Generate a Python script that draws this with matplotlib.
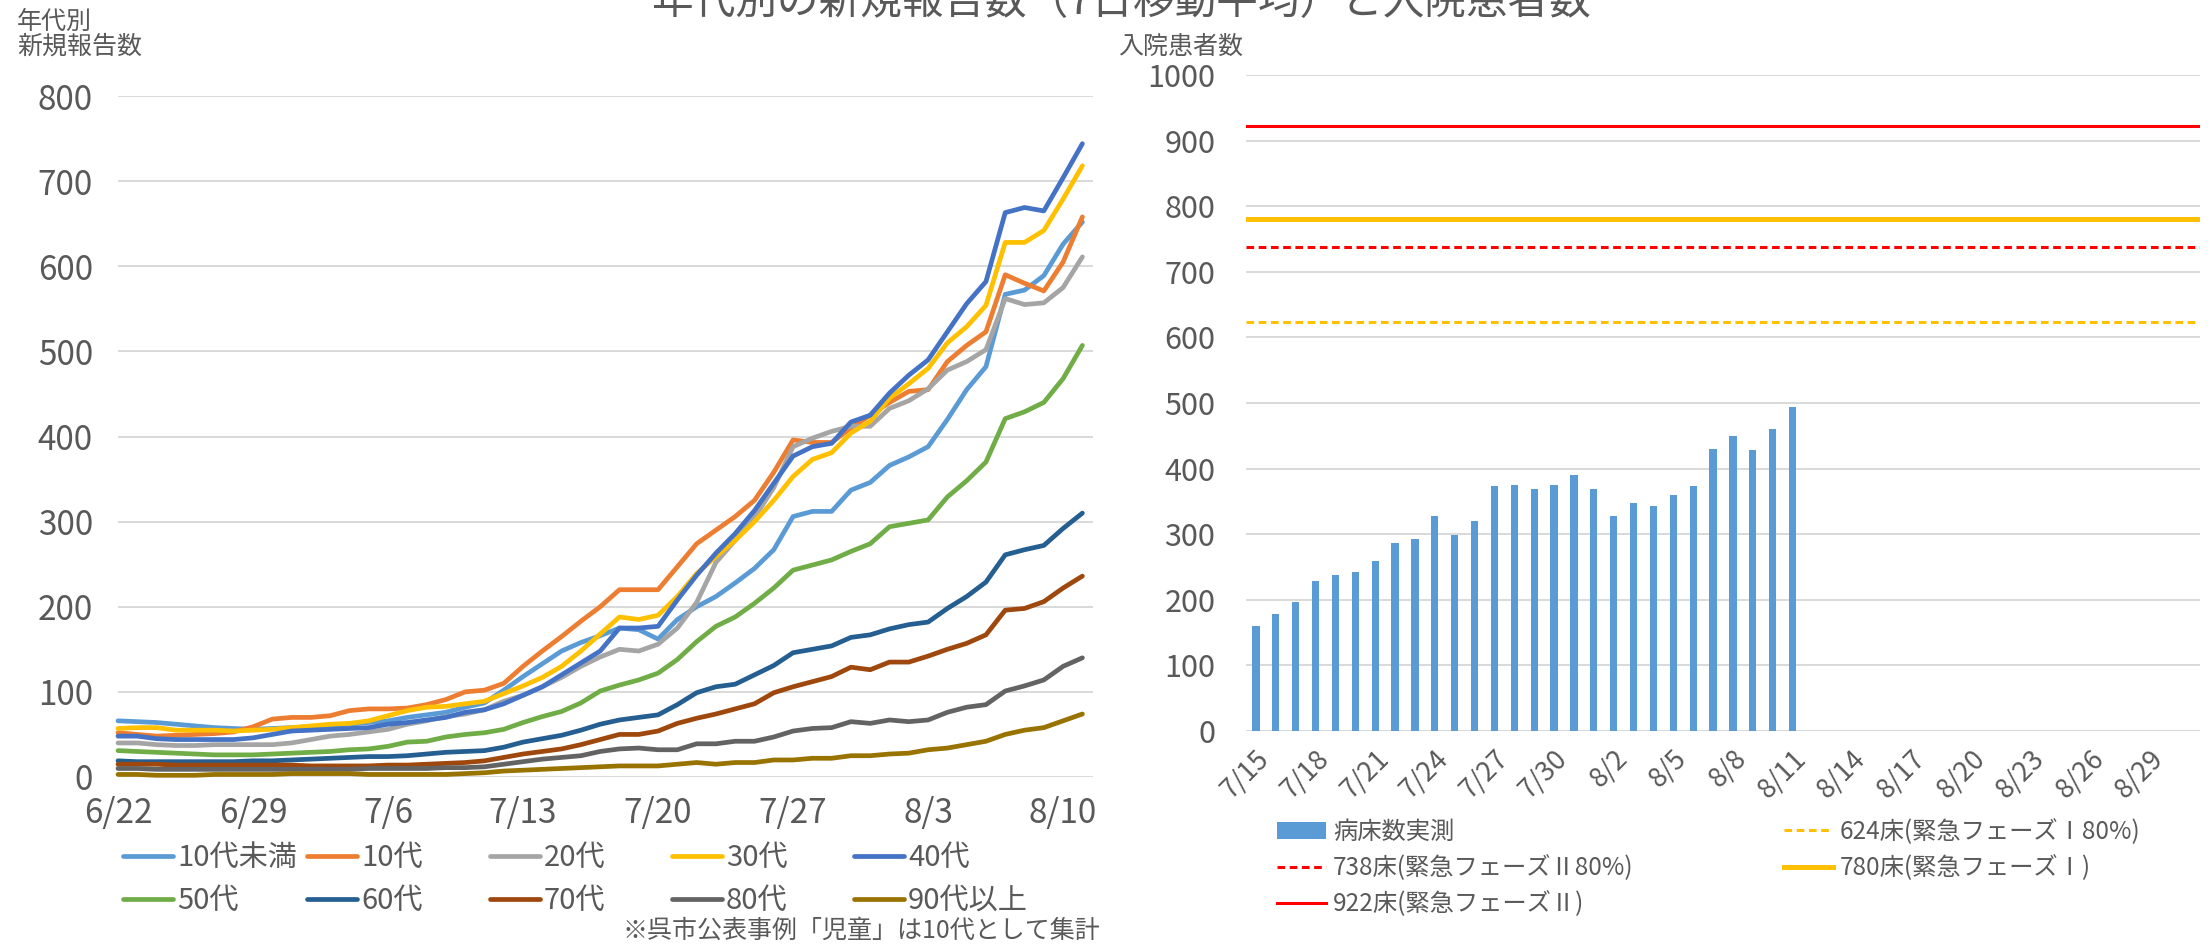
import matplotlib
matplotlib.use('Agg')
import matplotlib.pyplot as plt
from matplotlib.patches import Patch
import numpy as np
import pandas as pd

plt.rcParams['font.family'] = ['Noto Sans CJK JP', 'DejaVu Sans']

# ---------------- data ----------------
left_dates = pd.date_range('2020-06-22', '2020-08-11')
left_labels = [f'{d.month}/{d.day}' for d in left_dates]

series_names = ['10代未満', '10代', '20代', '30代', '40代',
                '50代', '60代', '70代', '80代', '90代以上']

age_u10 = [66, 65, 64, 62, 60, 58, 57, 56, 57, 58, 59, 60, 62, 64, 66, 70, 73, 76, 82, 87,
           102, 118, 133, 148, 158, 166, 175, 173, 162, 185, 200, 212, 228, 245, 267, 306, 312, 312, 337, 346,
           366, 376, 388, 420, 455, 482, 567, 572, 589, 626, 652]
age_10 = [52, 50, 48, 49, 50, 51, 53, 59, 68, 70, 70, 72, 78, 80, 80, 81, 85, 91, 100, 102,
          110, 130, 148, 165, 183, 200, 220, 220, 220, 247, 274, 290, 306, 325, 358, 396, 393, 393, 410, 425,
          440, 453, 455, 488, 507, 523, 590, 580, 571, 605, 658]
age_20 = [40, 40, 38, 37, 37, 38, 38, 38, 38, 40, 44, 48, 50, 53, 56, 62, 66, 71, 74, 79,
          89, 96, 106, 117, 130, 141, 150, 148, 156, 175, 205, 252, 278, 305, 340, 388, 398, 406, 412, 412,
          433, 442, 456, 478, 488, 502, 562, 555, 557, 575, 611]
age_30 = [57, 58, 58, 55, 55, 55, 54, 55, 56, 58, 60, 62, 63, 66, 72, 78, 82, 83, 86, 89,
          98, 107, 117, 130, 148, 168, 188, 185, 190, 212, 239, 259, 278, 300, 325, 353, 373, 381, 404, 418,
          445, 462, 480, 510, 529, 554, 628, 628, 642, 679, 718]
age_40 = [48, 48, 45, 44, 44, 44, 44, 46, 50, 54, 55, 56, 57, 58, 62, 64, 67, 70, 76, 79,
          86, 96, 106, 120, 134, 148, 175, 175, 177, 208, 237, 263, 286, 313, 345, 377, 388, 392, 417, 425,
          451, 472, 490, 523, 556, 582, 663, 669, 665, 704, 744]
age_50 = [31, 30, 29, 28, 27, 26, 26, 26, 27, 28, 29, 30, 32, 33, 36, 41, 42, 47, 50, 52,
          56, 64, 71, 77, 87, 101, 108, 114, 122, 138, 159, 177, 188, 204, 222, 243, 249, 255, 265, 274,
          294, 298, 302, 329, 348, 370, 421, 429, 440, 468, 507]
age_60 = [19, 18, 18, 18, 18, 18, 18, 19, 19, 20, 21, 22, 23, 24, 24, 25, 27, 29, 30, 31,
          35, 41, 45, 49, 55, 62, 67, 70, 73, 85, 99, 106, 109, 120, 131, 146, 150, 154, 164, 167,
          174, 179, 182, 198, 212, 229, 261, 267, 272, 292, 310]
age_70 = [15, 15, 15, 14, 14, 14, 14, 14, 14, 14, 13, 13, 13, 13, 14, 14, 15, 16, 17, 19,
          23, 27, 30, 33, 38, 44, 50, 50, 54, 63, 69, 74, 80, 86, 99, 106, 112, 118, 129, 126,
          135, 135, 142, 150, 157, 167, 196, 198, 206, 222, 236]
age_80 = [10, 10, 9, 9, 9, 9, 9, 9, 9, 9, 9, 9, 9, 10, 10, 10, 10, 11, 11, 12,
          15, 18, 21, 23, 25, 30, 33, 34, 32, 32, 39, 39, 42, 42, 47, 54, 57, 58, 65, 63,
          67, 65, 67, 76, 82, 85, 101, 107, 114, 130, 140]
age_90 = [3, 3, 2, 2, 2, 3, 3, 3, 3, 4, 4, 4, 4, 3, 3, 3, 3, 3, 4, 5,
          7, 8, 9, 10, 11, 12, 13, 13, 13, 15, 17, 15, 17, 17, 20, 20, 22, 22, 25, 25,
          27, 28, 32, 34, 38, 42, 50, 55, 58, 66, 74]

series_colors = ['#5B9BD5', '#ED7D31', '#A5A5A5', '#FFC000', '#4472C4',
                 '#70AD47', '#255E91', '#9E480E', '#636363', '#997300']

right_dates = pd.date_range('2020-07-15', '2020-08-31')
right_labels = [f'{d.month}/{d.day}' for d in right_dates]
beds_actual = [160, 178, 196, 229, 238, 242, 259, 287, 293, 327, 299, 320, 374, 375, 369, 375,
               391, 369, 328, 348, 343, 360, 374, 430, 450, 429, 460, 494]
bar_label = '病床数実測'

limit_values = [624, 738, 780, 922]
limit_labels = ['624床(緊急フェーズⅠ80%)', '738床(緊急フェーズⅡ80%)',
                '780床(緊急フェーズⅠ)', '922床(緊急フェーズⅡ)']
limit_colors = ['#FFC000', '#FF0000', '#FFC000', '#FF0000']
limit_styles = [(0, (2.5, 1.5)), (0, (2.5, 1.5)), '-', '-']
limit_widths = [2.2, 2.2, 3.6, 2.2]

# ---------------- figure ----------------
W, H = 2212, 944
TXT = '#595959'
GRID = '#D9D9D9'
fig = plt.figure(figsize=(W / 100, H / 100), dpi=100)

def px_box(x0, y_top, x1, y_bot):
    return [x0 / W, (H - y_bot) / H, (x1 - x0) / W, (y_bot - y_top) / H]

# ---- left chart ----
ax1 = fig.add_axes(px_box(118, 96, 1093, 777))
x = np.arange(len(left_dates))
all_series = [age_u10, age_10, age_20, age_30, age_40, age_50, age_60, age_70, age_80, age_90]
lines = []
for name, vals, col in zip(series_names, all_series, series_colors):
    ln, = ax1.plot(x, vals, color=col, lw=3.4, solid_capstyle='round',
                   solid_joinstyle='round', label=name, clip_on=False, zorder=3)
    lines.append(ln)
ax1.set_xlim(0, 50.55)
ax1.set_ylim(0, 800)
ax1.set_yticks(np.arange(0, 801, 100))
ax1.set_xticks(x[::7])
ax1.set_xticklabels(left_labels[::7])
ax1.grid(axis='y', color=GRID, lw=1.4)
ax1.set_axisbelow(True)
for s in ax1.spines.values():
    s.set_visible(False)
ax1.tick_params(axis='both', length=0, colors=TXT, labelsize=24)
ax1.tick_params(axis='y', pad=18)
ax1.tick_params(axis='x', pad=14)

# ---- right chart ----
ax2 = fig.add_axes(px_box(1246, 75, 2200, 731))
xb = np.arange(len(beds_actual))
ax2.bar(xb, beds_actual, width=0.36, color='#5B9BD5', zorder=2, label=bar_label)
limit_handles = []
for v, lab, c, ls, lw in zip(limit_values, limit_labels, limit_colors, limit_styles, limit_widths):
    h = ax2.axhline(v, color=c, ls=ls, lw=lw, zorder=3, label=lab)
    limit_handles.append(h)
ax2.set_xlim(-0.5, len(right_dates) - 0.5)
ax2.set_ylim(0, 1000)
ax2.set_yticks(np.arange(0, 1001, 100))
rx = np.arange(len(right_dates))
ax2.set_xticks(rx[::3])
ax2.set_xticklabels(right_labels[::3], rotation=45, ha='right', rotation_mode='anchor')
ax2.grid(axis='y', color=GRID, lw=1.4)
ax2.set_axisbelow(True)
for s in ax2.spines.values():
    s.set_visible(False)
ax2.tick_params(axis='both', length=0, colors=TXT)
ax2.tick_params(axis='y', labelsize=22, pad=22)
ax2.tick_params(axis='x', labelsize=19.5, pad=10)

# ---- texts ----
fig.text(1121 / W, (H - 2) / H, '年代別の新規報告数（7日移動平均）と入院患者数',
         ha='center', va='center', fontsize=30, color=TXT)
fig.text(17 / W, (H - 22) / H, '年代別', ha='left', va='center', fontsize=18, color=TXT)
fig.text(17 / W, (H - 47) / H, '新規報告数', ha='left', va='center', fontsize=18, color=TXT)
fig.text(1118 / W, (H - 47) / H, '入院患者数', ha='left', va='center', fontsize=18, color=TXT)
fig.text(1100 / W, (H - 931) / H, '※呉市公表事例「児童」は10代として集計',
         ha='right', va='center', fontsize=18, color=TXT)

# ---- left legend: 5 columns ----
col_x = [123, 307, 490, 672, 854]
for k, cx in enumerate(col_x):
    hs = [lines[k], lines[k + 5]]
    fig.legend(handles=hs, labels=[series_names[k], series_names[k + 5]],
               loc='upper left', bbox_to_anchor=(cx / W, (H - 843) / H),
               frameon=False, fontsize=21, handlelength=1.7, handletextpad=0.15,
               borderpad=0, borderaxespad=0, labelspacing=0.45, labelcolor=TXT)

# ---- right legend: 2 columns ----
bar_handle = Patch(facecolor='#5B9BD5', edgecolor='none')
col1 = [bar_handle, limit_handles[1], limit_handles[3]]
col1_labels = [bar_label, limit_labels[1], limit_labels[3]]
col2 = [limit_handles[0], limit_handles[2]]
col2_labels = [limit_labels[0], limit_labels[2]]
for hs, labs, cx in [(col1, col1_labels, 1277), (col2, col2_labels, 1784)]:
    fig.legend(handles=hs, labels=labs, loc='upper left',
               bbox_to_anchor=(cx / W, (H - 819) / H), frameon=False, fontsize=17.5,
               handlelength=2.0, handletextpad=0.3, borderpad=0, borderaxespad=0,
               labelspacing=0.42, labelcolor=TXT)

fig.savefig('out.png', dpi=100)
